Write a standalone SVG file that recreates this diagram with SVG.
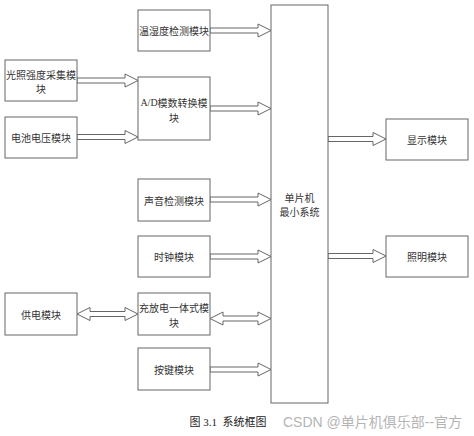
<svg xmlns="http://www.w3.org/2000/svg" width="474" height="436" viewBox="0 0 474 436">
<style>
.box{fill:#fff;stroke:#666;stroke-width:1}
.arr{fill:#fff;stroke:#666;stroke-width:1;stroke-linejoin:miter}
.t{font-family:"Noto Sans CJK SC","Liberation Sans",sans-serif;font-size:10px;fill:#333;text-anchor:middle;dominant-baseline:central}
.s{font-family:"Liberation Serif",serif}
.cap{font-family:"Liberation Serif","Noto Sans CJK SC",serif;font-size:11px;fill:#222;text-anchor:middle;dominant-baseline:central}
.wm{font-family:"Liberation Sans","Noto Sans CJK SC",sans-serif;font-size:14px;fill:#b4b4b4;dominant-baseline:central}
</style>
<rect width="474" height="436" fill="#fff"/>
<g id="connectors">
<polygon class="arr" points="210,28 258,28 258,24 271,30.5 258,37 258,33 210,33"/>
<polygon class="arr" points="77,78 125,78 125,74 138,80.5 125,87 125,83 77,83"/>
<polygon class="arr" points="77,134.5 125,134.5 125,130.5 138,137 125,143.5 125,139.5 77,139.5"/>
<polygon class="arr" points="210,106 258,106 258,102 271,108.5 258,115 258,111 210,111"/>
<polygon class="arr" points="210,197 258,197 258,193 271,199.5 258,206 258,202 210,202"/>
<polygon class="arr" points="210,254 258,254 258,250 271,256.5 258,263 258,259 210,259"/>
<polygon class="arr" points="77,314 90,307.5 90,311.5 125,311.5 125,307.5 138,314 125,320.5 125,316.5 90,316.5 90,320.5"/>
<polygon class="arr" points="210,318.5 223,312 223,316 258,316 258,312 271,318.5 258,325 258,321 223,321 223,325"/>
<polygon class="arr" points="210,367 258,367 258,363 271,369.5 258,376 258,372 210,372"/>
<polygon class="arr" points="328,136.5 373,136.5 373,132.5 386,139 373,145.5 373,141.5 328,141.5"/>
<polygon class="arr" points="328,253.5 373,253.5 373,249.5 386,256 373,262.5 373,258.5 328,258.5"/>
</g>
<g id="wsd"><rect class="box" x="138" y="10" width="72" height="41"/><text class="t" x="174" y="30.5">温湿度检测模块</text></g>
<g id="gz"><rect class="box" x="5" y="60" width="72" height="41"/><text class="t" x="41" y="74">光照强度采集模</text><text class="t" x="41" y="88.5">块</text></g>
<g id="ad"><rect class="box" x="138" y="77" width="72" height="63"/><text class="t" x="174" y="102"><tspan class="s">A/D</tspan>模数转换模</text><text class="t" x="174" y="117">块</text></g>
<g id="dc"><rect class="box" x="5" y="117" width="72" height="41"/><text class="t" x="41" y="137.5">电池电压模块</text></g>
<g id="sy"><rect class="box" x="138" y="179" width="72" height="42"/><text class="t" x="174" y="200">声音检测模块</text></g>
<g id="sz"><rect class="box" x="138" y="236" width="72" height="41"/><text class="t" x="174" y="256.5">时钟模块</text></g>
<g id="gd"><rect class="box" x="5" y="293" width="72" height="42"/><text class="t" x="41" y="314">供电模块</text></g>
<g id="cf"><rect class="box" x="138" y="293" width="72" height="42"/><text class="t" x="174" y="307">充放电一体式模</text><text class="t" x="174" y="322">块</text></g>
<g id="aj"><rect class="box" x="138" y="348" width="72" height="42"/><text class="t" x="174" y="369">按键模块</text></g>
<g id="mcu"><rect class="box" x="271" y="5" width="57" height="398"/><text class="t" x="299.5" y="197">单片机</text><text class="t" x="299.5" y="211.5">最小系统</text></g>
<g id="xs"><rect class="box" x="386" y="119" width="82" height="41"/><text class="t" x="427" y="139.5">显示模块</text></g>
<g id="zm"><rect class="box" x="386" y="236" width="82" height="41"/><text class="t" x="427" y="256.5">照明模块</text></g>
<text class="cap" x="228" y="422" xml:space="preserve">图 3.1  系统框图</text>
<text class="wm" x="283" y="422">CSDN @单片机俱乐部--官方</text>
</svg>
